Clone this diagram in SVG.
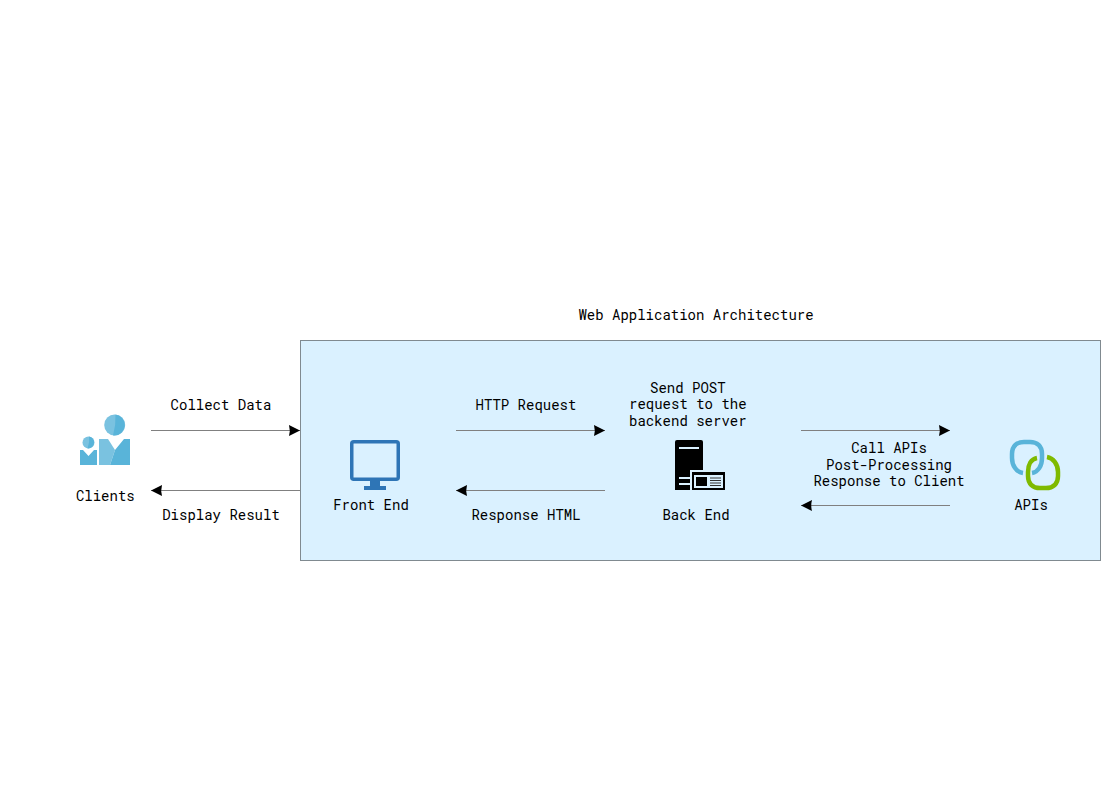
<svg xmlns="http://www.w3.org/2000/svg" width="1112" height="793" viewBox="0 0 1112 793">
<style>
text{font-family:"Roboto Mono","Liberation Mono","DejaVu Sans Mono",monospace;font-size:14px;fill:#000;text-anchor:middle}
.c{fill:none;stroke:#808080;stroke-width:1}
</style>
<defs>
<marker id="a" markerUnits="userSpaceOnUse" markerWidth="12" markerHeight="12" refX="11" refY="5.5" orient="auto"><path d="M0 0L11 5.500L0 11Q1.500 5.500 0 0Z" fill="#000"/></marker>
</defs>
<rect width="1112" height="793" fill="#fff"/>
<g id="container"><rect x="300.500" y="340.500" width="800" height="220" fill="#daf1ff" stroke="#808a90"/></g>
<text x="696" y="319.500">Web Application Architecture</text>
<g id="connectors">
<path class="c" d="M151 430.500H300" marker-end="url(#a)"/>
<path class="c" d="M300 490.500H151" marker-end="url(#a)"/>
<path class="c" d="M456 430.500H605" marker-end="url(#a)"/>
<path class="c" d="M605 490.500H456" marker-end="url(#a)"/>
<path class="c" d="M801 430.500H950" marker-end="url(#a)"/>
<path class="c" d="M950 505.500H801" marker-end="url(#a)"/>
</g>
<g id="labels">
<text x="221" y="409.500">Collect Data</text>
<text x="221" y="519.500">Display Result</text>
<text x="526" y="409.500">HTTP Request</text>
<text x="526" y="519.500">Response HTML</text>
<text x="687.800" y="392.500">Send POST</text>
<text x="687.800" y="409">request to the</text>
<text x="687.800" y="425.500">backend server</text>
<text x="889" y="452.500">Call APIs</text>
<text x="889" y="469.500">Post-Processing</text>
<text x="889" y="485.500">Response to Client</text>
</g>
<g id="clients">
<circle cx="114.700" cy="425" r="10.500" fill="#7ac2e0"/>
<path d="M115.500 414.500A10.500 10.500 0 0 1 113 435.400Q116 425 115.500 414.500Z" fill="#59b4d9"/>
<path d="M99 439H108L115 450L110 465H99Z" fill="#7ac2e0"/>
<path d="M108 439L115 450L124 439H130V465H110L115 450Z" fill="#59b4d9"/>
<circle cx="88.500" cy="442.500" r="6" fill="#7ac2e0"/>
<path d="M89 436.500A6 6 0 0 1 87.500 448.400Q90 442.500 89 436.500Z" fill="#59b4d9"/>
<path d="M80 450H83L88.500 456L94 450H97V465H80Z" fill="#59b4d9"/>
<text x="105.300" y="500.500">Clients</text>
</g>
<g id="frontend">
<rect x="351.750" y="441.750" width="46.500" height="37.500" rx="2" fill="none" stroke="#2e75b6" stroke-width="3.500"/>
<rect x="370" y="481" width="10" height="5" fill="#2e75b6"/>
<rect x="364" y="486" width="22" height="4" fill="#2e75b6"/>
<text x="371" y="509.500">Front End</text>
</g>
<g id="backend">
<path d="M677 440H701Q703 440 703 442V490H675V442Q675 440 677 440Z" fill="#000"/>
<rect x="679" y="447" width="20" height="2" fill="#daf1ff"/>
<rect x="679" y="477" width="12" height="2" fill="#daf1ff"/>
<rect x="679" y="483" width="12" height="2" fill="#daf1ff"/>
<rect x="690" y="470" width="35" height="20" fill="#daf1ff"/>
<rect x="692" y="472" width="33" height="18" fill="#000"/>
<rect x="694" y="475" width="29" height="13" fill="#daf1ff"/>
<rect x="696" y="477" width="11" height="9" fill="#000"/>
<path d="M710 478H721M710 480.500H721M710 483H721M710 485.500H721" stroke="#333" stroke-width="1.200"/>
<text x="696" y="519.500">Back End</text>
</g>
<g id="apis">
<path d="M1023 473C1016 472 1012 465 1012 458V454C1012 446 1017 442 1024 442H1030C1037 442 1042 446 1042 454V458C1042 466 1038 472 1032 473" fill="none" stroke="#59b4d9" stroke-width="4.500"/>
<path d="M1037 458C1031 459 1028 465 1028 472V476C1028 484 1033 488 1040 488H1046C1053 488 1058 484 1058 476V472C1058 464 1053 458 1047 457" fill="none" stroke="#7fba00" stroke-width="4.500"/>
<text x="1031" y="509.500">APIs</text>
</g>
</svg>
